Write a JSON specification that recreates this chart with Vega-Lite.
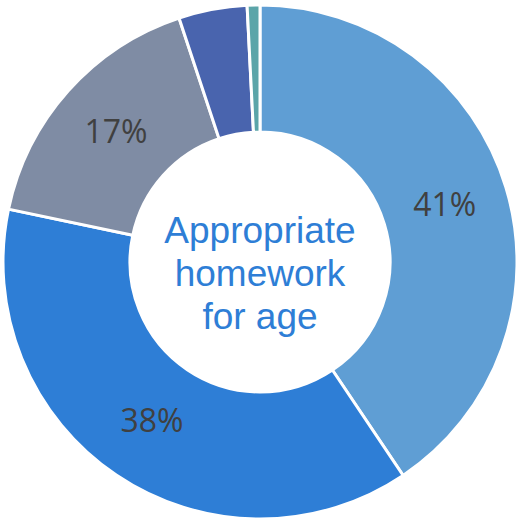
{
  "$schema": "https://vega.github.io/schema/vega-lite/v6.json",
  "width": 520,
  "height": 519,
  "autosize": {"type": "fit", "contains": "padding"},
  "padding": {"top": 5, "bottom": 0, "left": 0, "right": 0},
  "background": "white",
  "view": {"stroke": null},
  "datasets": {
    "slices": [
      {"cat": "A", "value": 40.6, "label": "41%", "idx": 1},
      {"cat": "B", "value": 37.7, "label": "38%", "idx": 2},
      {"cat": "C", "value": 16.6, "label": "17%", "idx": 3},
      {"cat": "D", "value": 4.3, "label": "", "idx": 4},
      {"cat": "E", "value": 0.8, "label": "", "idx": 5}
    ],
    "title": [{"t": "Appropriate\nhomework\nfor age"}]
  },
  "layer": [
    {
      "data": {"name": "slices"},
      "mark": {"type": "arc", "outerRadius": 257, "innerRadius": 130, "stroke": "white", "strokeWidth": 3},
      "encoding": {
        "theta": {"field": "value", "type": "quantitative", "stack": true},
        "order": {"field": "idx", "type": "quantitative"},
        "color": {"field": "cat", "type": "nominal", "legend": null,
          "scale": {"domain": ["A","B","C","D","E"], "range": ["#5F9ED4","#2E7ED6","#7F8CA4","#4964AE","#5BA5A9"]}}
      }
    },
    {
      "data": {"name": "slices"},
      "mark": {"type": "text", "radius": 193, "fontSize": 32, "font": "Open Sans", "color": "#404040"},
      "encoding": {
        "theta": {"field": "value", "type": "quantitative", "stack": true},
        "order": {"field": "idx", "type": "quantitative"},
        "text": {"field": "label"}
      }
    },
    {
      "data": {"name": "title"},
      "mark": {"type": "text", "fontSize": 37, "font": "Liberation Sans", "color": "#2E7ED6", "lineBreak": "\n", "lineHeight": 43, "baseline": "middle", "align": "center", "dy": -30},
      "encoding": {
        "text": {"field": "t"}
      }
    }
  ]
}
